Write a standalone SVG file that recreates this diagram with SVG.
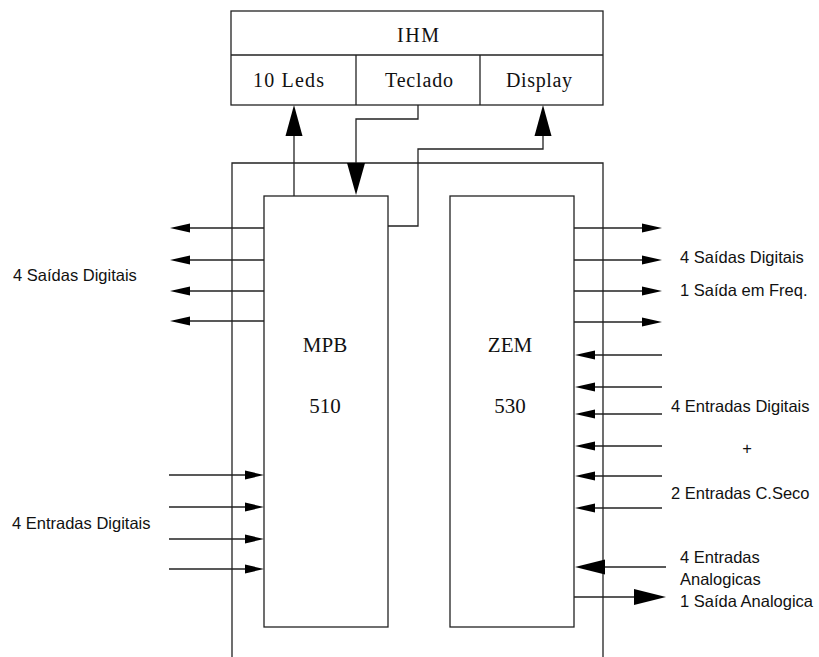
<svg xmlns="http://www.w3.org/2000/svg" width="819" height="657" viewBox="0 0 819 657">
<style>
.ln{fill:none;stroke:#222;stroke-width:1.3}
.bx{fill:#fff;stroke:#222;stroke-width:1.3}
.ah{fill:#000;stroke:none}
.sf{font-family:"Liberation Serif","Times New Roman",serif;font-size:20px;fill:#111}
.sfb{font-family:"Liberation Serif","Times New Roman",serif;font-size:21px;fill:#111}
.ss{font-family:"Liberation Sans",Arial,sans-serif;font-size:16.5px;fill:#111}
</style>
<rect width="819" height="657" fill="#fff"/>
<g id="frame">
<path class="ln" d="M232,657 V163 H603 V657"/>
</g>
<g id="ihm">
<rect class="bx" x="231" y="11" width="372" height="94"/>
<line class="ln" x1="231" y1="55" x2="603" y2="55"/>
<line class="ln" x1="356" y1="55" x2="356" y2="105"/>
<line class="ln" x1="480" y1="55" x2="480" y2="105"/>
<text class="sf" x="418" y="42" text-anchor="middle" textLength="42" lengthAdjust="spacing">IHM</text>
<text class="sf" x="253" y="87" textLength="71" lengthAdjust="spacing">10 Leds</text>
<text class="sf" x="385" y="87" textLength="68" lengthAdjust="spacing">Teclado</text>
<text class="sf" x="506" y="87" textLength="66" lengthAdjust="spacing">Display</text>
</g>
<g id="mpb">
<rect class="bx" x="264" y="196" width="124" height="431"/>
<text class="sfb" x="325" y="352" text-anchor="middle">MPB</text>
<text class="sfb" x="325" y="413" text-anchor="middle">510</text>
</g>
<g id="zem">
<rect class="bx" x="450" y="196" width="124" height="431"/>
<text class="sfb" x="510" y="352" text-anchor="middle">ZEM</text>
<text class="sfb" x="510" y="413" text-anchor="middle">530</text>
</g>
<g id="connectors">
<line class="ln" x1="294" y1="196" x2="294" y2="130"/>
<polygon class="ah" points="294,105 285.5,136 302.5,136"/>
<path class="ln" d="M418,105 V119 H356 V170"/>
<polygon class="ah" points="356,195 347,163 365,163"/>
<path class="ln" d="M388,226 H418 V149 H543 V130"/>
<polygon class="ah" points="543,105 534.5,136 551.5,136"/>
<line class="ln" x1="264" y1="228" x2="180" y2="228"/>
<line class="ln" x1="264" y1="260" x2="180" y2="260"/>
<line class="ln" x1="264" y1="291" x2="180" y2="291"/>
<line class="ln" x1="264" y1="321" x2="180" y2="321"/>
<polygon class="ah" points="170,228 190,223.5 190,232.5"/>
<polygon class="ah" points="170,260 190,255.5 190,264.5"/>
<polygon class="ah" points="170,291 190,286.5 190,295.5"/>
<polygon class="ah" points="170,321 190,316.5 190,325.5"/>
<line class="ln" x1="169" y1="475" x2="250" y2="475"/>
<line class="ln" x1="169" y1="507" x2="250" y2="507"/>
<line class="ln" x1="169" y1="539" x2="250" y2="539"/>
<line class="ln" x1="169" y1="569" x2="250" y2="569"/>
<polygon class="ah" points="264,475 245,470.5 245,479.5"/>
<polygon class="ah" points="264,507 245,502.5 245,511.5"/>
<polygon class="ah" points="264,539 245,534.5 245,543.5"/>
<polygon class="ah" points="264,569 245,564.5 245,573.5"/>
<line class="ln" x1="574" y1="228" x2="650" y2="228"/>
<line class="ln" x1="574" y1="260" x2="650" y2="260"/>
<line class="ln" x1="574" y1="291" x2="650" y2="291"/>
<line class="ln" x1="574" y1="322" x2="650" y2="322"/>
<polygon class="ah" points="662,228 642,223.5 642,232.5"/>
<polygon class="ah" points="662,260 642,255.5 642,264.5"/>
<polygon class="ah" points="662,291 642,286.5 642,295.5"/>
<polygon class="ah" points="662,322 642,317.5 642,326.5"/>
<line class="ln" x1="662" y1="355" x2="585" y2="355"/>
<line class="ln" x1="662" y1="387" x2="585" y2="387"/>
<line class="ln" x1="662" y1="414" x2="585" y2="414"/>
<line class="ln" x1="662" y1="446" x2="585" y2="446"/>
<line class="ln" x1="662" y1="476" x2="585" y2="476"/>
<line class="ln" x1="662" y1="508" x2="585" y2="508"/>
<polygon class="ah" points="575,355 595,350.5 595,359.5"/>
<polygon class="ah" points="575,387 595,382.5 595,391.5"/>
<polygon class="ah" points="575,414 595,409.5 595,418.5"/>
<polygon class="ah" points="575,446 595,441.5 595,450.5"/>
<polygon class="ah" points="575,476 595,471.5 595,480.5"/>
<polygon class="ah" points="575,508 595,503.5 595,512.5"/>
<line class="ln" x1="666" y1="567" x2="595" y2="567"/>
<polygon class="ah" points="575,567 605,559.5 605,574.5"/>
<line class="ln" x1="574" y1="597" x2="645" y2="597"/>
<polygon class="ah" points="666,597 634,589 634,605"/>
</g>
<g id="labels">
<text class="ss" x="13" y="281">4 Saídas Digitais</text>
<text class="ss" x="12" y="529">4 Entradas Digitais</text>
<text class="ss" x="680" y="263">4 Saídas Digitais</text>
<text class="ss" x="680" y="296">1 Saída em Freq.</text>
<text class="ss" x="671" y="412">4 Entradas Digitais</text>
<text class="ss" x="747" y="454" text-anchor="middle">+</text>
<text class="ss" x="671" y="499">2 Entradas C.Seco</text>
<text class="ss" x="680" y="563">4 Entradas</text>
<text class="ss" x="680" y="585">Analogicas</text>
<text class="ss" x="680" y="607">1 Saída Analogica</text>
</g>
</svg>
